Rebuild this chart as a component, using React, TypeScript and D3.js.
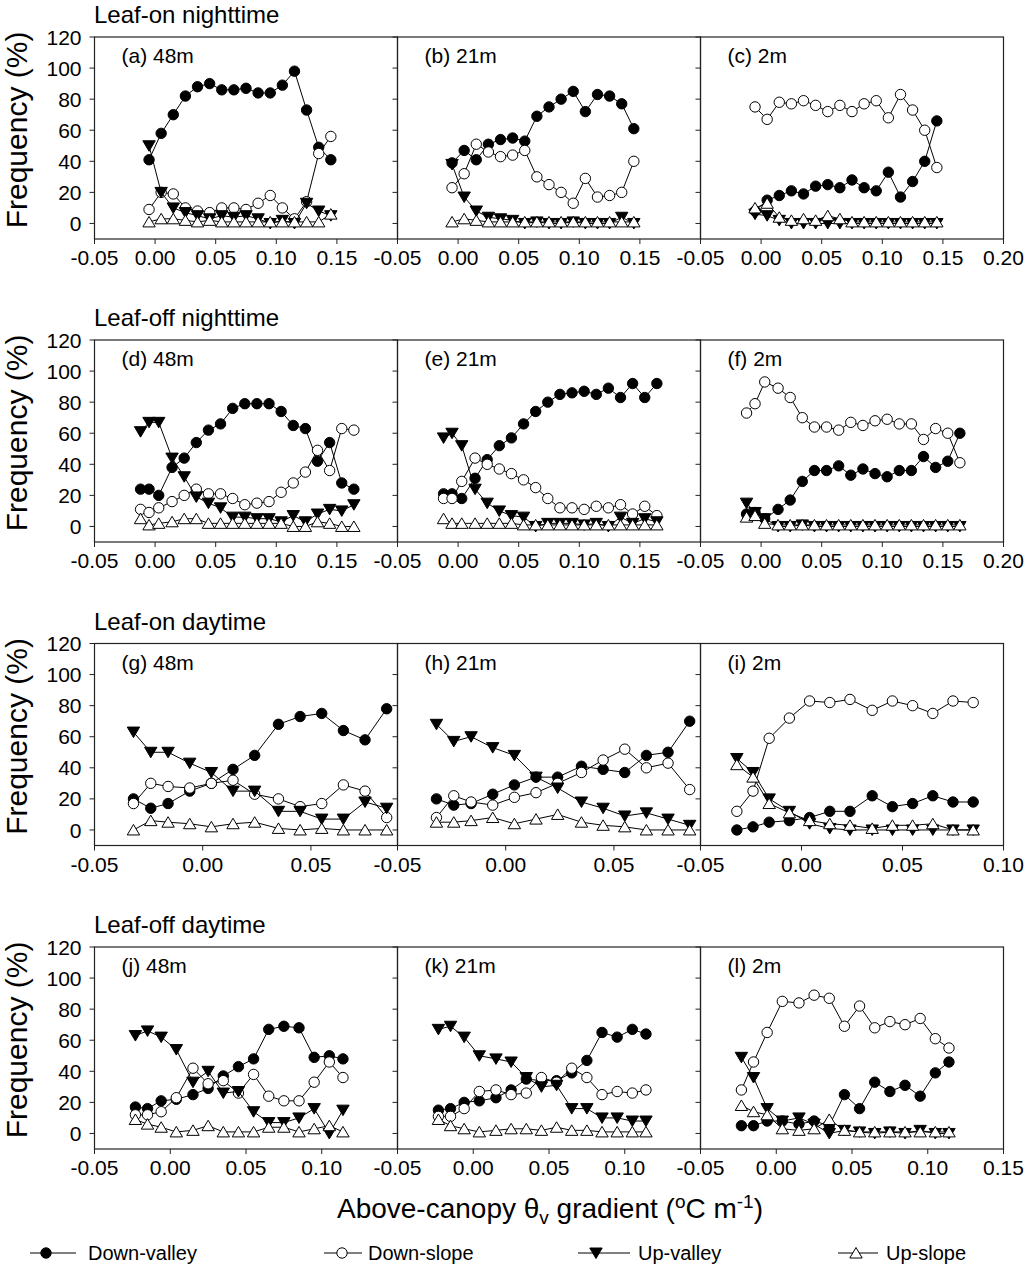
import React from 'react';
import * as d3 from 'd3';

const W = 1024;
const H = 1275;
const FONT = '"Liberation Sans", Arial, Helvetica, sans-serif';

// bin centres (oC/m) for each row of panels
const xOnNight = [-0.005, 0.005, 0.015, 0.025, 0.035, 0.045, 0.055, 0.065, 0.075, 0.085, 0.095, 0.105, 0.115, 0.125, 0.135, 0.145];
const xOffNight = [-0.012, -0.005, 0.003, 0.014, 0.024, 0.034, 0.044, 0.054, 0.064, 0.074, 0.084, 0.094, 0.104, 0.114, 0.124, 0.134, 0.144, 0.154, 0.164];
const xOnDay = [-0.032, -0.024, -0.016, -0.006, 0.004, 0.014, 0.024, 0.035, 0.045, 0.055, 0.065, 0.075, 0.085];
const xOffDay = [-0.023, -0.015, -0.006, 0.004, 0.015, 0.025, 0.035, 0.045, 0.055, 0.065, 0.075, 0.085, 0.095, 0.105, 0.114];

// (a) leaf-on night 48m
const aDV = [41, 58, 70, 82, 88, 90, 86, 86, 87, 84, 84, 89, 98, 73, 49, 41];
const aDS = [9, 20, 19, 10, 8, 7, 10, 10, 9, 13, 18, 10, 3, 14, 45, 56];
const aUV = [50, 20, 10, 7, 5, 3, 5, 4, 5, 3, 0, 2, 0, 13, 8, 5];
const aUS = [1, 3, 3, 2, 1, 2, 1, 1, 1, 1, 1, 1, 1, 1, 1, 6];
// (b) leaf-on night 21m
const bDV = [39, 47, 41, 51, 54, 55, 53, 69, 75, 80, 85, 72, 83, 82, 77, 61];
const bDS = [23, 32, 51, 46, 43, 44, 47, 30, 25, 20, 13, 29, 17, 18, 20, 40];
const bUV = [38, 17, 8, 4, 3, 2, 0, 1, 0, 0, 1, 0, 0, 0, 4, 0];
const bUS = [1, 3, 2, 1, 1, 1, 1, 1, 1, 1, 1, 1, 1, 1, 1, 1];
// (c) leaf-on night 2m
const cDV = [8, 15, 18, 21, 19, 24, 25, 23, 28, 23, 21, 33, 17, 27, 40, 66];
const cDS = [75, 67, 78, 77, 79, 76, 72, 76, 72, 77, 79, 68, 83, 73, 60, 36];
const cUV = [6, 5, 2, 0, 0, 0, 0, 0, 0, 0, 0, 0, 0, 0, 0, 0];
const cUS = [10, 13, 4, 2, 3, 2, 5, 3, 1, 1, 1, 1, 1, 1, 1, 1];
// (d) leaf-off night 48m
const dDV = [24, 24, 20, 38, 44, 54, 62, 66, 76, 79, 79, 79, 74, 65, 63, 42, 54, 28, 24];
const dDS = [11, 9, 12, 16, 20, 24, 21, 21, 18, 14, 15, 16, 22, 28, 35, 49, 36, 63, 62];
const dUV = [61, 67, 67, 44, 32, 19, 15, 12, 6, 6, 5, 5, 3, 7, 3, 8, 11, 10, 14];
const dUS = [5, 1, 2, 3, 5, 5, 2, 2, 2, 2, 2, 2, 2, 0, 0, 3, 2, 0, 0];
// (e) leaf-off night 21m
const eDV = [21, 21, 18, 31, 43, 52, 57, 66, 74, 80, 85, 86, 87, 85, 89, 83, 92, 83, 92];
const eDS = [18, 18, 29, 44, 40, 37, 34, 30, 25, 18, 12, 12, 11, 13, 12, 14, 8, 13, 7];
const eUV = [57, 60, 52, 24, 15, 10, 7, 6, 0, 2, 2, 2, 1, 2, 0, 6, 2, 5, 3];
const eUS = [5, 2, 2, 2, 2, 2, 2, 1, 1, 1, 1, 1, 1, 1, 1, 1, 1, 1, 1];
// (f) leaf-off night 2m
const fDV = [8, 9, 5, 11, 17, 29, 36, 36, 39, 33, 37, 34, 32, 36, 36, 45, 38, 42, 60];
const fDS = [73, 79, 93, 89, 83, 70, 64, 64, 62, 67, 65, 68, 69, 66, 66, 56, 63, 60, 41];
const fUV = [15, 9, 5, 0, 0, 1, 0, 0, 0, 0, 0, 0, 0, 0, 0, 0, 0, 0, 0];
const fUS = [6, 7, 2, 1, 1, 1, 1, 1, 1, 1, 1, 1, 1, 1, 1, 1, 1, 1, 1];
// (g) leaf-on day 48m
const gDV = [20, 14, 17, 25, 30, 39, 48, 68, 73, 75, 64, 58, 78];
const gDS = [17, 30, 28, 27, 30, 32, 23, 20, 15, 17, 29, 25, 8];
const gUV = [63, 50, 50, 43, 37, 25, 25, 12, 12, 7, 7, 18, 14];
const gUS = [0, 6, 5, 4, 2, 4, 5, 1, 0, 1, 0, 0, 0];
// (h) leaf-on day 21m
const hDV = [20, 16, 17, 23, 29, 34, 34, 41, 39, 37, 48, 50, 70];
const hDS = [8, 22, 18, 16, 21, 24, 30, 37, 45, 52, 40, 43, 26];
const hUV = [68, 57, 60, 53, 48, 34, 27, 18, 14, 9, 11, 7, 3];
const hUS = [5, 5, 6, 8, 4, 7, 10, 5, 3, 2, 0, 0, 0];
// (i) leaf-on day 2m
const iDV = [0, 2, 5, 6, 8, 12, 12, 22, 15, 17, 22, 18, 18];
const iDS = [12, 25, 59, 72, 83, 82, 84, 77, 83, 80, 75, 83, 82];
const iUV = [46, 37, 20, 12, 4, 1, 0, 0, 0, 0, 0, 0, 0];
const iUS = [42, 34, 17, 11, 6, 4, 3, 1, 3, 3, 4, 0, 0];
// (j) leaf-off day 48m
const jDV = [17, 16, 21, 22, 25, 29, 37, 43, 48, 67, 69, 68, 49, 50, 48];
const jDS = [12, 12, 14, 23, 42, 32, 34, 26, 38, 24, 21, 21, 33, 46, 36];
const jUV = [63, 66, 62, 54, 33, 40, 26, 27, 14, 7, 7, 10, 16, 0, 15];
const jUS = [9, 6, 4, 1, 2, 5, 1, 1, 1, 4, 4, 1, 3, 5, 1];
// (k) leaf-off day 21m
const kDV = [15, 16, 20, 21, 23, 28, 35, 34, 34, 39, 47, 65, 62, 67, 64];
const kDS = [11, 11, 16, 27, 28, 25, 26, 36, 33, 42, 36, 25, 27, 26, 28];
const kUV = [67, 69, 62, 50, 48, 46, 36, 30, 31, 16, 16, 10, 10, 8, 8];
const kUS = [9, 5, 3, 1, 2, 3, 3, 2, 4, 2, 2, 1, 1, 1, 1];
// (l) leaf-off day 2m
const lDV = [5, 5, 8, 8, 6, 8, 5, 25, 16, 33, 27, 31, 24, 39, 46];
const lDS = [28, 46, 65, 85, 84, 89, 87, 69, 82, 68, 72, 70, 74, 61, 55];
const lUV = [49, 36, 16, 8, 10, 6, 0, 2, 1, 0, 1, 0, 2, 0, 0];
const lUS = [18, 14, 12, 3, 2, 3, 9, 2, 1, 1, 1, 1, 1, 1, 1];

const yTicks = [0, 20, 40, 60, 80, 100, 120];
const ticksNight = [-0.05, 0, 0.05, 0.1, 0.15, 0.2];
const ticksOnDay = [-0.05, 0, 0.05, 0.1];
const ticksOffDay = [-0.05, 0, 0.05, 0.1, 0.15];

const seriesNames = ['Down-valley', 'Down-slope', 'Up-valley', 'Up-slope'];
const seriesShapes = ['circle', 'circle', 'down', 'up'];
const seriesFills = ['#000', '#fff', '#000', '#fff'];

const rows = [
  {
    title: 'Leaf-on nighttime', x: xOnNight, domain: [-0.05, 0.2], ticks: ticksNight,
    panels: [
      { label: '(a) 48m', data: [aDV, aDS, aUV, aUS] },
      { label: '(b) 21m', data: [bDV, bDS, bUV, bUS] },
      { label: '(c) 2m', data: [cDV, cDS, cUV, cUS] },
    ],
  },
  {
    title: 'Leaf-off nighttime', x: xOffNight, domain: [-0.05, 0.2], ticks: ticksNight,
    panels: [
      { label: '(d) 48m', data: [dDV, dDS, dUV, dUS] },
      { label: '(e) 21m', data: [eDV, eDS, eUV, eUS] },
      { label: '(f) 2m', data: [fDV, fDS, fUV, fUS] },
    ],
  },
  {
    title: 'Leaf-on daytime', x: xOnDay, domain: [-0.05, 0.09], ticks: ticksOnDay,
    panels: [
      { label: '(g) 48m', data: [gDV, gDS, gUV, gUS] },
      { label: '(h) 21m', data: [hDV, hDS, hUV, hUS] },
      { label: '(i) 2m', data: [iDV, iDS, iUV, iUS], domain: [-0.05, 0.1] },
    ],
  },
  {
    title: 'Leaf-off daytime', x: xOffDay, domain: [-0.05, 0.15], ticks: ticksOffDay,
    panels: [
      { label: '(j) 48m', data: [jDV, jDS, jUV, jUS] },
      { label: '(k) 21m', data: [kDV, kDS, kUV, kUS] },
      { label: '(l) 2m', data: [lDV, lDS, lUV, lUS] },
    ],
  },
];

// layout
const panelLeft = 94.5;
const panelW = 303;
const rowTop = [37, 340, 643.5, 947];
const panelH = 202;

const Marker = ({ shape, fill, cx, cy }) => {
  if (shape === 'circle') {
    return <circle cx={cx} cy={cy} r={5.2} fill={fill} stroke="#000" strokeWidth={1} />;
  }
  const path = shape === 'up'
    ? 'M0,-5.5L6.2,5L-6.2,5Z'
    : 'M0,5.5L6.2,-5L-6.2,-5Z';
  return <path d={path} transform={`translate(${cx},${cy})`} fill={fill} stroke="#000" strokeWidth={1} />;
};

// plain hyphen for negatives, as in the original
const fmt = (v) => (v < -1e-9 ? '-' : '') + Math.abs(v).toFixed(2);

const Panel = ({ row, panel, col, top }) => {
  const left = panelLeft + col * panelW;
  const domain = panel.domain || row.domain;
  const x = d3.scaleLinear().domain(domain).range([left, left + panelW]);
  const y = d3.scaleLinear().domain([-10, 120]).range([top + panelH, top]);
  const line = d3.line().x((d) => x(d[0])).y((d) => y(d[1]));
  const bottom = top + panelH;
  const xt = row.ticks.filter((t) => t <= domain[1] + 1e-9 && (col === 2 || t < domain[1] - 1e-9));

  return (
    <g>
      {panel.data.map((vals, si) => {
        const pts = row.x.map((xv, i) => [xv, vals[i]]);
        return (
          <g key={si}>
            <path d={line(pts)} fill="none" stroke="#000" strokeWidth={1} />
            {pts.map((p, i) => (
              <Marker key={i} shape={seriesShapes[si]} fill={seriesFills[si]} cx={x(p[0])} cy={y(p[1])} />
            ))}
          </g>
        );
      })}
      <rect x={left} y={top} width={panelW} height={panelH} fill="none" stroke="#222" strokeWidth={1.2} />
      {yTicks.map((t) => (
        <g key={t}>
          <line x1={left - 5} x2={left} y1={y(t)} y2={y(t)} stroke="#222" strokeWidth={1} />
          {col === 0 && (
            <text x={left - 13} y={y(t)} dy="0.36em" textAnchor="end" fontSize={21} fontFamily={FONT}>{t}</text>
          )}
        </g>
      ))}
      {xt.map((t) => (
        <g key={t}>
          <line x1={x(t)} x2={x(t)} y1={bottom} y2={bottom + 5} stroke="#222" strokeWidth={1} />
          <text x={x(t)} y={bottom + 26} textAnchor="middle" fontSize={21} fontFamily={FONT}>{fmt(t)}</text>
        </g>
      ))}
      <text x={left + 27} y={top + 26} fontSize={21} fontFamily={FONT}>{panel.label}</text>
    </g>
  );
};

const legendItems = [
  { line: [30, 76], mx: 46, tx: 88 },
  { line: [324, 362], mx: 342, tx: 368 },
  { line: [578, 630], mx: 596, tx: 638 },
  { line: [838, 878], mx: 856, tx: 886 },
];

export default function App() {
  const legendY = 1253;
  return (
    <svg width={W} height={H} viewBox={`0 0 ${W} ${H}`} style={{ position: 'absolute', left: 0, top: 0, background: '#fff' }}>
      <rect x={0} y={0} width={W} height={H} fill="#fff" />
      {rows.map((row, ri) => {
        const top = rowTop[ri];
        return (
          <g key={ri}>
            <text x={94} y={top - 14} fontSize={24} fontFamily={FONT}>{row.title}</text>
            <text transform={`translate(27,${top + panelH / 2 - 8}) rotate(-90)`} textAnchor="middle" fontSize={30} fontFamily={FONT}>Frequency (%)</text>
            {row.panels.map((p, ci) => (
              <Panel key={ci} row={row} panel={p} col={ci} top={top} />
            ))}
          </g>
        );
      })}
      <text x={550} y={1218} textAnchor="middle" fontSize={28} fontFamily={FONT}>
        Above-canopy θ<tspan fontSize={19} dy={6}>v</tspan>
        <tspan dy={-6}> gradient (</tspan>
        <tspan fontSize={19} dy={-10}>o</tspan>
        <tspan dy={10}>C m</tspan>
        <tspan fontSize={19} dy={-10}>-1</tspan>
        <tspan dy={10}>)</tspan>
      </text>
      {legendItems.map((it, i) => (
        <g key={i}>
          <line x1={it.line[0]} x2={it.line[1]} y1={legendY} y2={legendY} stroke="#000" strokeWidth={1} />
          <Marker shape={seriesShapes[i]} fill={seriesFills[i]} cx={it.mx} cy={legendY} />
          <text x={it.tx} y={legendY} dy="0.36em" fontSize={20} fontFamily={FONT}>{seriesNames[i]}</text>
        </g>
      ))}
    </svg>
  );
}
